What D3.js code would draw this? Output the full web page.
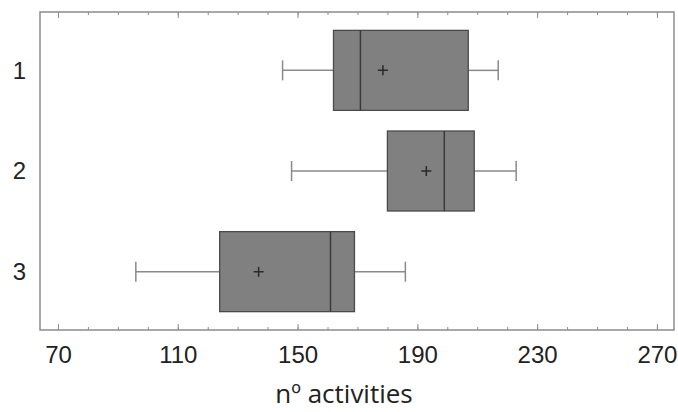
<!DOCTYPE html>
<html>
<head>
<meta charset="utf-8">
<script src="https://cdn.jsdelivr.net/npm/d3@7"></script>
<style>
  body { margin: 0; background: #fff; }
  .tick text { font-family: "Liberation Sans", Arial, sans-serif; }
</style>
</head>
<body>
<div id="chart"></div>
<script>
// groups, top to bottom
const groups = ["1", "2", "3"];
const whiskerLow = [145, 148, 96];
const q1 = [162, 180, 124];
const median = [171, 199, 161];
const q3 = [207, 209, 169];
const whiskerHigh = [217, 223, 186];
const means = [178.5, 193, 137];
const xTicks = [70, 110, 150, 190, 230, 270];

const width = 678, height = 412;
const margin = {top: 12, right: 4, bottom: 82, left: 40};
const w = width - margin.left - margin.right;
const h = height - margin.top - margin.bottom;

const svg = d3.select("#chart").append("svg")
    .attr("width", width).attr("height", height);
const g = svg.append("g")
    .attr("transform", "translate(" + margin.left + "," + margin.top + ")");

const x = d3.scaleLinear().domain([64, 275.7]).range([0, w]);
const y = d3.scalePoint().domain(groups).range([0, h]).padding(0.58);
const boxH = 80;

// frame
g.append("rect")
    .attr("width", w).attr("height", h)
    .attr("fill", "none").attr("stroke", "#8c8c8c").attr("stroke-width", 1.5);

// minor + major ticks, pointing inward on bottom and top
const minor = d3.range(70, 271, 10);
function inTicks(vals, len) {
  g.append("g")
      .attr("transform", "translate(0," + h + ")")
      .call(d3.axisTop(x).tickValues(vals).tickSize(len).tickFormat(""))
      .call(s => s.select(".domain").remove())
      .call(s => s.selectAll("line").attr("stroke", "#8c8c8c"));
  g.append("g")
      .call(d3.axisBottom(x).tickValues(vals).tickSize(len).tickFormat(""))
      .call(s => s.select(".domain").remove())
      .call(s => s.selectAll("line").attr("stroke", "#8c8c8c"));
}
inTicks(minor, 3);
inTicks(xTicks, 6);

// tick labels
g.append("g")
    .attr("transform", "translate(0," + h + ")")
    .call(d3.axisBottom(x).tickValues(xTicks).tickSize(0).tickPadding(16))
    .call(s => s.select(".domain").remove())
    .call(s => s.selectAll("text").attr("font-size", 24).attr("fill", "#222"));

g.append("g")
    .call(d3.axisLeft(y).tickSize(0).tickPadding(14))
    .call(s => s.select(".domain").remove())
    .call(s => s.selectAll("text").attr("font-size", 24).attr("fill", "#222"));

// axis title
svg.append("text")
    .attr("x", 344).attr("y", 403)
    .attr("text-anchor", "middle")
    .attr("font-family", "'Open Sans', sans-serif")
    .attr("font-size", 26)
    .attr("fill", "#222")
    .text("nº activities");

// boxes
const boxes = g.selectAll(".box").data(groups).enter().append("g")
    .attr("class", "box")
    .attr("transform", d => "translate(0," + y(d) + ")");

const wcol = "#8a8a8a";
boxes.append("line")
    .attr("x1", (d, i) => x(whiskerLow[i])).attr("x2", (d, i) => x(q1[i]))
    .attr("stroke", wcol).attr("stroke-width", 1.5);
boxes.append("line")
    .attr("x1", (d, i) => x(q3[i])).attr("x2", (d, i) => x(whiskerHigh[i]))
    .attr("stroke", wcol).attr("stroke-width", 1.5);
boxes.append("line")
    .attr("x1", (d, i) => x(whiskerLow[i])).attr("x2", (d, i) => x(whiskerLow[i]))
    .attr("y1", -10).attr("y2", 10)
    .attr("stroke", wcol).attr("stroke-width", 1.5);
boxes.append("line")
    .attr("x1", (d, i) => x(whiskerHigh[i])).attr("x2", (d, i) => x(whiskerHigh[i]))
    .attr("y1", -10).attr("y2", 10)
    .attr("stroke", wcol).attr("stroke-width", 1.5);

boxes.append("rect")
    .attr("x", (d, i) => x(q1[i]))
    .attr("width", (d, i) => x(q3[i]) - x(q1[i]))
    .attr("y", -boxH / 2).attr("height", boxH)
    .attr("fill", "#808080").attr("stroke", "#4a4a4a").attr("stroke-width", 1.3);

boxes.append("line")
    .attr("x1", (d, i) => x(median[i])).attr("x2", (d, i) => x(median[i]))
    .attr("y1", -boxH / 2).attr("y2", boxH / 2)
    .attr("stroke", "#3a3a3a").attr("stroke-width", 1.5);

// mean markers (+)
boxes.append("path")
    .attr("d", (d, i) => "M" + (x(means[i]) - 5) + ",0H" + (x(means[i]) + 5) +
                         "M" + x(means[i]) + ",-5V5")
    .attr("stroke", "#2a2a2a").attr("stroke-width", 1.5);
</script>
</body>
</html>
